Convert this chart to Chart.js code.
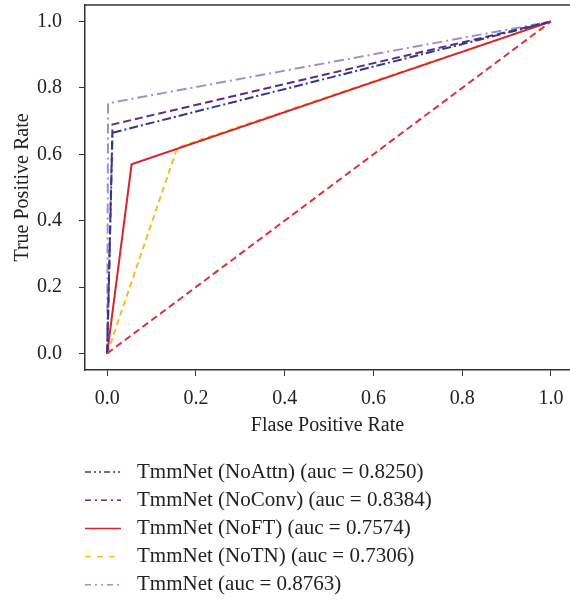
<!DOCTYPE html>
<html>
<head>
<meta charset="utf-8">
<script src="https://cdn.jsdelivr.net/npm/chart.js@4.4.1/dist/chart.umd.min.js"></script>
<style>
  html, body { margin: 0; padding: 0; background: #fff; }
  #wrap { width: 570px; height: 603px; position: relative; }
</style>
</head>
<body>
<div id="wrap"><canvas id="roc"></canvas></div>
<script>
// ROC curve points (false positive rate, true positive rate)
const seriesNames = [
  "TmmNet (NoAttn) (auc = 0.8250)",
  "TmmNet (NoConv) (auc = 0.8384)",
  "TmmNet (NoFT) (auc = 0.7574)",
  "TmmNet (NoTN) (auc = 0.7306)",
  "TmmNet (auc = 0.8763)"
];
const noAttnFpr = [0, 0.012, 1];
const noAttnTpr = [0, 0.665, 1];
const noConvFpr = [0, 0.012, 1];
const noConvTpr = [0, 0.69, 1];
const noFtFpr = [0, 0.055, 1];
const noFtTpr = [0, 0.57, 1];
const noTnFpr = [0, 0.158, 1];
const noTnTpr = [0, 0.62, 1];
const fullFpr = [0, 0.002, 1];
const fullTpr = [0, 0.754, 1];
const chanceFpr = [0, 1];
const chanceTpr = [0, 1];
const tickValues = [0, 0.2, 0.4, 0.6, 0.8, 1.0];

const colors = ["#2c3a8e", "#5e2a82", "#d5262c", "#f0be2c", "#9d90cf"];
const dashes = [[9, 3, 2, 3], [8, 4], [], [6, 4], [10, 4, 2, 4]];
const legendDashes = [[6, 3, 2, 3, 2, 3], [6, 4, 2, 4], [], [6, 6], [6, 4, 2, 4, 2, 4]];

function pts(xs, ys) {
  return xs.map((x, i) => ({ x: x, y: ys[i] }));
}

const curves = [
  pts(noAttnFpr, noAttnTpr),
  pts(noConvFpr, noConvTpr),
  pts(noFtFpr, noFtTpr),
  pts(noTnFpr, noTnTpr),
  pts(fullFpr, fullTpr)
];

const datasets = [{
  label: "",
  data: pts(chanceFpr, chanceTpr),
  borderColor: "#d8323c",
  borderDash: [7, 4],
  borderWidth: 2,
  showLine: true,
  pointRadius: 0
}];
const drawOrder = [3, 2, 4, 1, 0];
drawOrder.forEach(i => {
  datasets.push({
    label: seriesNames[i],
    data: curves[i],
    borderColor: colors[i],
    borderDash: dashes[i],
    borderWidth: 2,
    showLine: true,
    pointRadius: 0,
    order: i
  });
});

const font = "Liberation Serif";
const axisColor = "#333";

// frame top line + legend underneath the plot
const framePlugin = {
  id: "frame",
  afterDraw(chart) {
    const ctx = chart.ctx;
    const a = chart.chartArea;
    ctx.save();
    ctx.strokeStyle = axisColor;
    ctx.lineWidth = 1.5;
    ctx.beginPath();
    ctx.moveTo(a.left, a.top);
    ctx.lineTo(chart.width, a.top);
    ctx.stroke();

    ctx.font = "21px '" + font + "'";
    ctx.textBaseline = "middle";
    seriesNames.forEach((name, i) => {
      const y = 472 + i * 28.2;
      ctx.strokeStyle = colors[i];
      ctx.lineWidth = 1.5;
      ctx.setLineDash(legendDashes[i]);
      ctx.beginPath();
      ctx.moveTo(85, y);
      ctx.lineTo(121, y);
      ctx.stroke();
      ctx.setLineDash([]);
      ctx.fillStyle = "#222";
      ctx.fillText(name, 137, y);
    });
    ctx.restore();
  }
};

new Chart(document.getElementById("roc"), {
  type: "scatter",
  data: { datasets: datasets },
  plugins: [framePlugin],
  options: {
    responsive: true,
    maintainAspectRatio: false,
    animation: false,
    layout: { padding: { top: 5, right: 0, bottom: 165, left: 0 } },
    plugins: {
      legend: { display: false },
      tooltip: { enabled: false }
    },
    scales: {
      x: {
        type: "linear",
        min: -0.05,
        max: 1.043,
        afterBuildTicks: s => { s.ticks = tickValues.map(v => ({ value: v })); },
        afterFit: s => { s.height = 68; s.paddingLeft = 0; s.paddingRight = 0; },
        border: { display: true, color: axisColor, width: 1.5 },
        grid: { drawOnChartArea: false, drawTicks: true, tickLength: 6, color: axisColor },
        ticks: {
          color: "#222",
          padding: 11,
          maxRotation: 0,
          font: { family: font, size: 20 },
          callback: v => v.toFixed(1)
        },
        title: {
          display: true,
          text: "Flase Positive Rate",
          color: "#222",
          font: { family: font, size: 20 },
          padding: { top: 2, bottom: 0 }
        }
      },
      y: {
        type: "linear",
        min: -0.05,
        max: 1.05,
        afterBuildTicks: s => { s.ticks = tickValues.map(v => ({ value: v })); },
        afterFit: s => { s.width = 85; s.paddingTop = 0; s.paddingBottom = 0; },
        border: { display: true, color: axisColor, width: 1.5 },
        grid: { drawOnChartArea: false, drawTicks: true, tickLength: 6, color: axisColor },
        ticks: {
          color: "#222",
          padding: 17,
          font: { family: font, size: 20 },
          callback: v => v.toFixed(1)
        },
        title: {
          display: true,
          text: "True Positive Rate",
          color: "#222",
          font: { family: font, size: 20 },
          padding: { top: 11, bottom: 4 }
        }
      }
    }
  }
});
</script>
</body>
</html>
